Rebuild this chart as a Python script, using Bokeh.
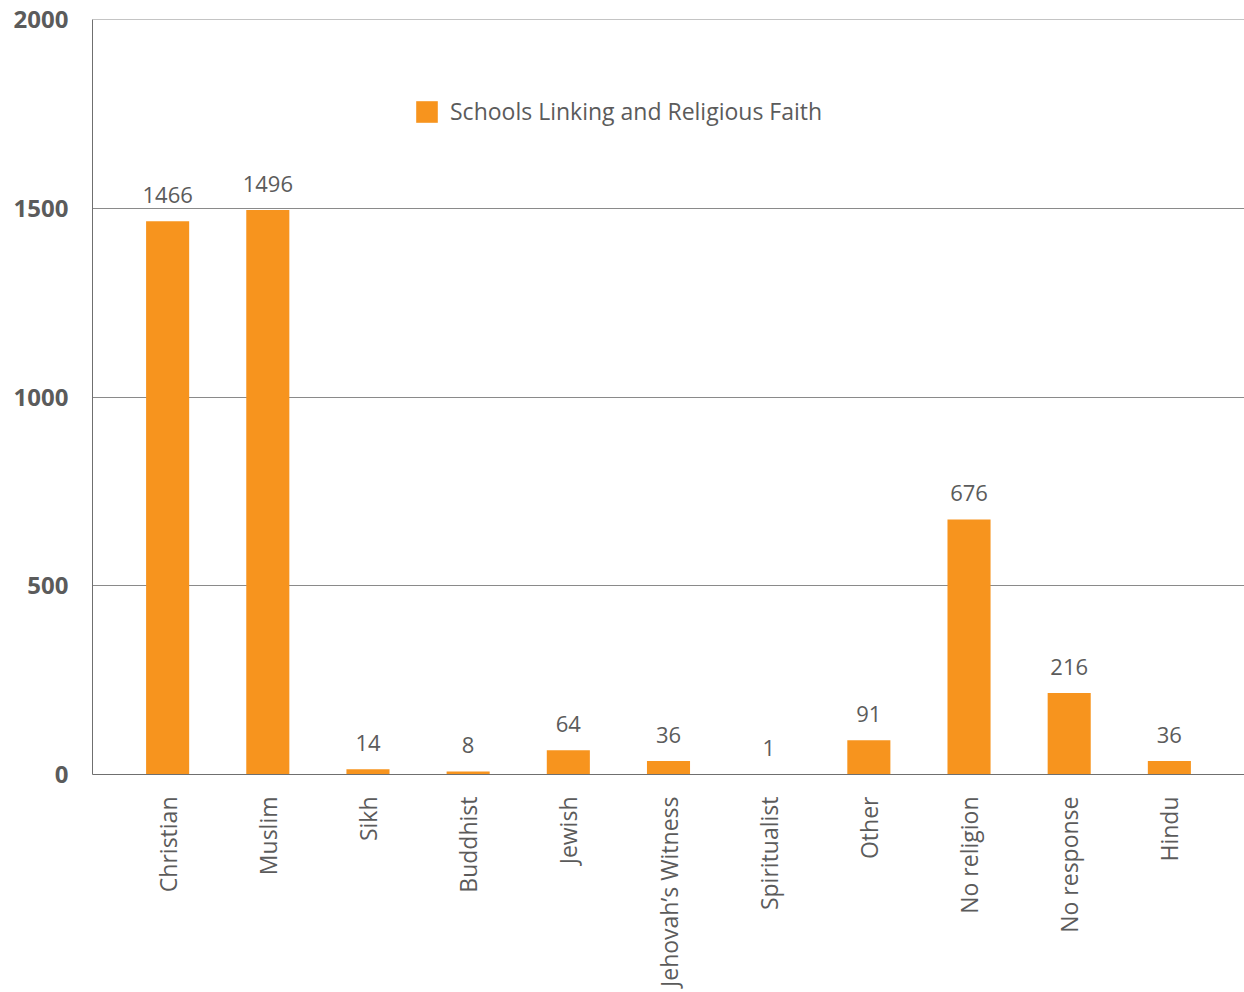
from bokeh.plotting import figure
from bokeh.models import ColumnDataSource, FactorRange, Range1d, FixedTicker, Legend, LegendItem, LabelSet
from bokeh.core.properties import value
from bokeh.embed import file_html
from bokeh.resources import INLINE
import math

categories = ["Christian", "Muslim", "Sikh", "Buddhist", "Jewish", "Jehovah\u2019s Witness",
              "Spiritualist", "Other", "No religion", "No response", "Hindu"]
counts = [1466, 1496, 14, 8, 64, 36, 1, 91, 676, 216, 36]
series_name = "Schools Linking and Religious Faith"
y_ticks = [0, 500, 1000, 1500, 2000]

FONT = "Open Sans"
TEXT = "#5b5b5b"
ORANGE = "#F7941E"

src = ColumnDataSource(dict(cat=categories, val=counts, lab=[str(v) for v in counts]))

p = figure(x_range=FactorRange(factors=categories, range_padding=0.25, range_padding_units="absolute"),
           y_range=Range1d(0, 2001),
           width=1244, height=992, output_backend="svg", toolbar_location=None,
           min_border_left=92, min_border_top=19, min_border_right=0, min_border_bottom=218)

r = p.vbar(x="cat", top="val", width=0.43, source=src, color=ORANGE, line_color=None)

labels = LabelSet(x="cat", y="val", text="lab", source=src, text_align="center",
                  text_baseline="alphabetic", y_offset=18, text_font=value(FONT),
                  text_font_size=value("22px"), text_color=value(TEXT))
p.add_layout(labels)

p.outline_line_color = None
p.xgrid.grid_line_color = None
p.ygrid.grid_line_color = "#8a8a8a"
p.ygrid.grid_line_width = 1
p.yaxis.ticker = FixedTicker(ticks=y_ticks)
p.yaxis.major_tick_line_color = None
p.yaxis.minor_tick_line_color = None
p.yaxis.axis_line_color = "#6f6f6f"
p.yaxis.major_label_text_font = FONT
p.yaxis.major_label_text_font_style = "bold"
p.yaxis.major_label_text_font_size = "24px"
p.yaxis.major_label_text_color = TEXT
p.yaxis.major_label_standoff = 18

p.xaxis.major_tick_line_color = None
p.xaxis.minor_tick_line_color = None
p.xaxis.axis_line_color = "#6f6f6f"
p.xaxis.major_label_orientation = math.pi / 2
p.xaxis.major_label_text_font = FONT
p.xaxis.major_label_text_font_size = "23px"
p.xaxis.major_label_text_color = TEXT
p.xaxis.major_label_standoff = 16

legend = Legend(items=[LegendItem(label=series_name, renderers=[r])],
                location=(321, 647), orientation="horizontal",
                glyph_width=27, glyph_height=27, label_height=27, label_standoff=10,
                label_text_font=FONT, label_text_font_size="23px", label_text_color=TEXT,
                background_fill_alpha=0, border_line_color=None, padding=10, margin=0)
p.add_layout(legend)

open("out.html", "w").write(file_html(p, INLINE))
